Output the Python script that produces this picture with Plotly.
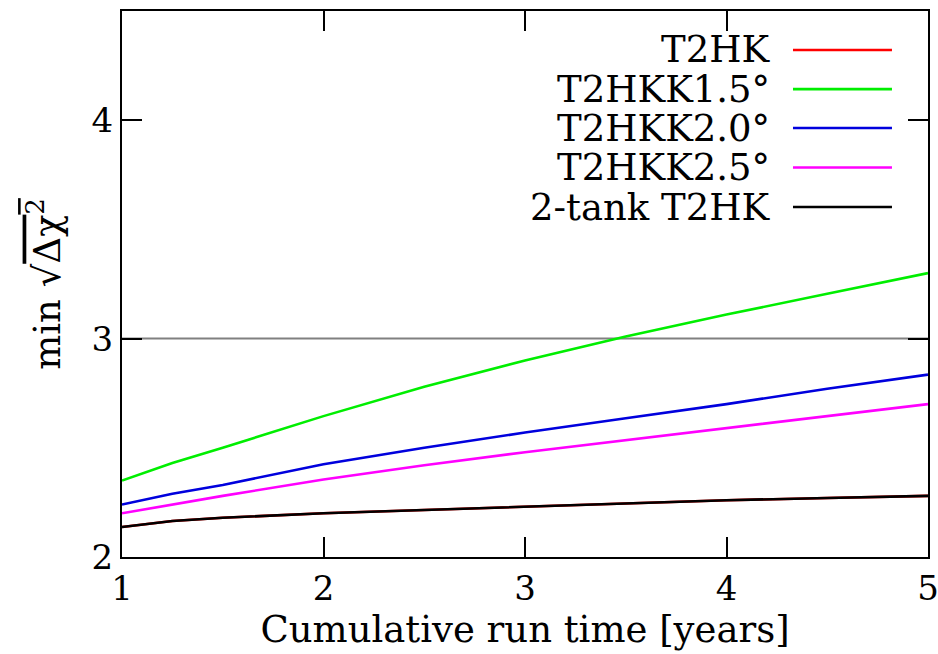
import plotly.graph_objects as go

# Cumulative run time [years]
years = [1.0, 1.25, 1.5, 2.0, 2.5, 3.0, 3.5, 4.0, 4.5, 5.0]

# min sqrt(delta chi^2) for each configuration
t2hk      = [2.137, 2.165, 2.180, 2.200, 2.215, 2.230, 2.245, 2.260, 2.270, 2.280]
t2hkk_15  = [2.350, 2.430, 2.500, 2.645, 2.780, 2.900, 3.010, 3.110, 3.205, 3.300]
t2hkk_20  = [2.240, 2.290, 2.330, 2.425, 2.500, 2.570, 2.635, 2.700, 2.770, 2.835]
t2hkk_25  = [2.200, 2.240, 2.280, 2.355, 2.420, 2.480, 2.535, 2.590, 2.645, 2.700]
two_tank  = [2.137, 2.165, 2.180, 2.200, 2.215, 2.230, 2.245, 2.260, 2.270, 2.280]

series_names = ["T2HK", "T2HKK1.5°", "T2HKK2.0°", "T2HKK2.5°", "2-tank T2HK"]
series_values = [t2hk, t2hkk_15, t2hkk_20, t2hkk_25, two_tank]
series_colors = ["#ff0000", "#00ee00", "#0000dd", "#ff00ff", "#000000"]

x_ticks = [1, 2, 3, 4, 5]
y_ticks = [2, 3, 4]
threshold = 3

FONT = "DejaVu Serif"
FS = 37
TICK_FS = 34

fig = go.Figure()

for name, vals, col in zip(series_names, series_values, series_colors):
    fig.add_trace(go.Scatter(x=years, y=vals, mode="lines", name=name,
                             line=dict(color=col, width=2.6), showlegend=False))

# 3-sigma reference line
fig.add_shape(type="line", xref="paper", yref="y", x0=0, x1=1,
              y0=threshold, y1=threshold, line=dict(color="#808080", width=2),
              layer="below")

# Key: labels right-aligned, sample lines to their right
key_rows = [0.9286, 0.857, 0.7857, 0.7134, 0.641]
for name, col, yy in zip(series_names, series_colors, key_rows):
    fig.add_annotation(x=0.806, y=yy, xref="paper", yref="paper", text=name,
                       showarrow=False, xanchor="right", yanchor="middle",
                       font=dict(family=FONT, size=FS, color="black"))
    fig.add_shape(type="line", xref="paper", yref="paper", x0=0.8325, x1=0.9553,
                  y0=yy, y1=yy, line=dict(color=col, width=2.6))

axis_common = dict(
    showline=True, linecolor="black", linewidth=2, mirror="ticks",
    ticks="inside", ticklen=20, tickwidth=1.5, tickcolor="black",
    showgrid=False, zeroline=False, automargin=False,
    ticklabeloverflow="allow",
    tickfont=dict(family=FONT, size=TICK_FS, color="black"),
)

fig.update_xaxes(range=[1, 5], tickvals=x_ticks,
                 title=dict(text="Cumulative run time [years]", standoff=4,
                            font=dict(family=FONT, size=FS, color="black")),
                 **axis_common)
fig.update_yaxes(range=[2, 4.5], tickvals=y_ticks,
                 title=dict(text="min √<span style='text-decoration:overline'>Δχ<sup>2</sup></span>",
                            standoff=20,
                            font=dict(family=FONT, size=FS, color="black")),
                 **axis_common)

fig.update_layout(
    width=938, height=654, autosize=False,
    margin=dict(l=122, r=10, t=11, b=97),
    paper_bgcolor="white", plot_bgcolor="white",
    showlegend=False,
)

fig.write_html("out.html", config={"responsive": False},
               post_script="document.body.style.margin='0';"
                           "document.body.style.overflow='hidden';")
